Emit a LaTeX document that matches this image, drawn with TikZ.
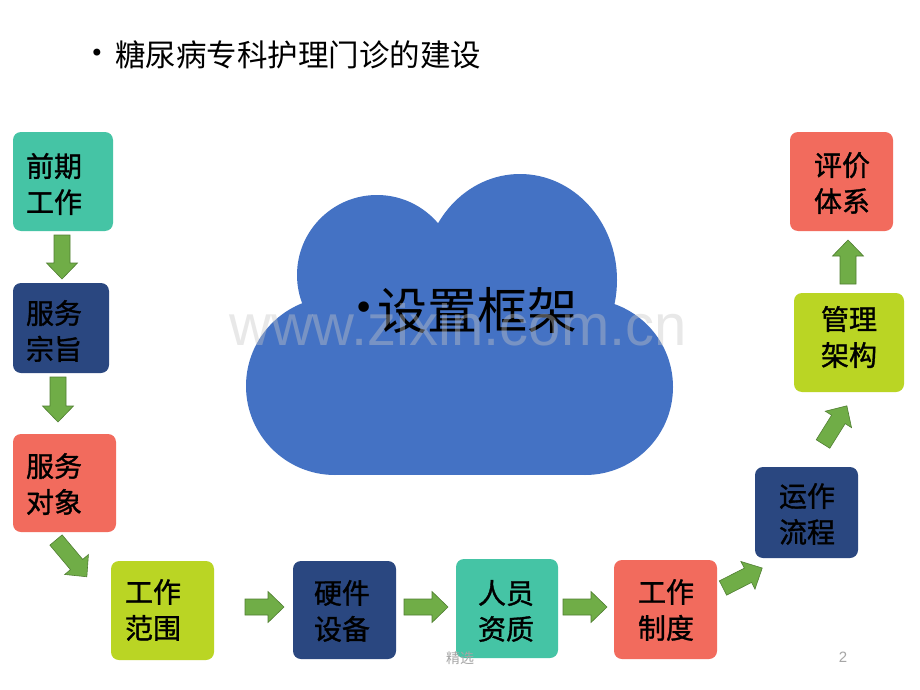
\documentclass[tikz,border=0pt]{standalone}
\usepackage{fontspec}
\newfontfamily\cjk{Noto Sans CJK SC}
\newfontfamily\cjkb[FakeBold=1.2]{Noto Sans CJK SC}
\newfontfamily\dejavu{DejaVu Sans}
\newfontfamily\libsans{Liberation Sans}
\definecolor{cteal}{HTML}{45C4A5}
\definecolor{cnavy}{HTML}{2A4780}
\definecolor{csalmon}{HTML}{F26B5D}
\definecolor{clime}{HTML}{BAD524}
\definecolor{cgreen}{HTML}{70AD47}
\definecolor{cgreenD}{HTML}{507E32}
\definecolor{ccloud}{HTML}{4472C4}
\definecolor{cfoot}{HTML}{A6A6A6}
\tikzset{
  stepbox/.style={rounded corners=8pt, inner sep=0pt, outer sep=0pt},
  boxtext/.style={font=\cjkb\fontsize{28}{36}\selectfont, align=center, text=black, inner sep=0pt},
  barrowstyle/.style={fill=cgreen, draw=cgreenD, line width=0.6pt, line join=miter},
  cloudfill/.style={fill=ccloud}
}
\newcommand\flowbox[9]{%
  \node[stepbox, fill=#6, minimum width={#4-#2}, minimum height={#5-#3}, anchor=north west] (#1) at (#2,-#3) {};
  \node[boxtext] (#1t) at (#7,-#8) {#9};
}
\newcommand\barrow[3]{%
  \begin{scope}[shift={#1}, rotate=#2]
    \draw[barrowstyle] (0,-8) -- ({#3-16},-8) -- ({#3-16},-15.5) -- (#3,0) -- ({#3-16},15.5) -- ({#3-16},8) -- (0,8) -- cycle;
  \end{scope}}
\begin{document}
\begin{tikzpicture}[x=1pt,y=1pt]
\useasboundingbox (0,0) rectangle (920,-690);
\fill[white] (0,0) rectangle (920,-690);
% title
\node[font=\dejavu\fontsize{24}{28}\selectfont, inner sep=0pt] (tbul) at (97,-55) {•};
\node[font=\cjk\fontsize{30.5}{36}\selectfont, anchor=west, inner sep=0pt] (title) at (115,-55) {糖尿病专科护理门诊的建设};
% cloud
\fill[cloudfill] (335,-386) circle (89);
\fill[cloudfill] (585,-387) circle (88);
\fill[cloudfill] (335,-300) rectangle (585,-475);
\fill[cloudfill] (377,-275) circle (80);
\fill[cloudfill] (520,-280) ellipse [x radius=97, y radius=106];
\node[font=\dejavu\fontsize{36}{40}\selectfont, inner sep=0pt] (cbul) at (364,-311) {•};
\node[font=\cjk\fontsize{50}{60}\selectfont, anchor=west, inner sep=0pt] (cloudtext) at (377,-311) {设置框架};
% watermark
\node[font=\libsans\fontsize{58}{60}\selectfont, anchor=base, inner sep=0pt, text=gray!45, opacity=0.4] (wm) at (458,-345) {www.zixin.com.cn};
% boxes
\flowbox{b1}{13}{132}{113}{231}{cteal}{54}{184}{前期\\工作}
\flowbox{b2}{13}{283}{109}{373}{cnavy}{54}{331}{服务\\宗旨}
\flowbox{b3}{13}{434}{116}{532}{csalmon}{54}{484}{服务\\对象}
\flowbox{b4}{111}{561}{214}{660}{clime}{153}{610}{工作\\范围}
\flowbox{b5}{293}{561}{396}{659}{cnavy}{342}{611}{硬件\\设备}
\flowbox{b6}{456}{559}{558}{658}{cteal}{506}{611}{人员\\资质}
\flowbox{b7}{614}{560}{717}{659}{csalmon}{666}{610}{工作\\制度}
\flowbox{b8}{755}{467}{858}{558}{cnavy}{807}{514}{运作\\流程}
\flowbox{b9}{794}{293}{904}{392}{clime}{849}{337}{管理\\架构}
\flowbox{b10}{790}{132}{893}{231}{csalmon}{842}{183}{评价\\体系}
% arrows
\barrow{(62,-235)}{-90}{44}
\barrow{(58,-377)}{-90}{45}
\barrow{(56,-540)}{-50}{48}
\barrow{(245,-607)}{0}{39}
\barrow{(404,-607)}{0}{44}
\barrow{(563,-607)}{0}{44}
\barrow{(723,-588)}{27}{44}
\barrow{(823,-444)}{58}{45}
\barrow{(848,-284)}{90}{44}
% footer
\node[font=\cjk\fontsize{14}{16}\selectfont, text=cfoot, inner sep=0pt] (foot) at (460,-658) {精选};
\node[font=\libsans\fontsize{15}{16}\selectfont, text=cfoot, inner sep=0pt] (pg) at (843,-657) {2};
\end{tikzpicture}
\end{document}
